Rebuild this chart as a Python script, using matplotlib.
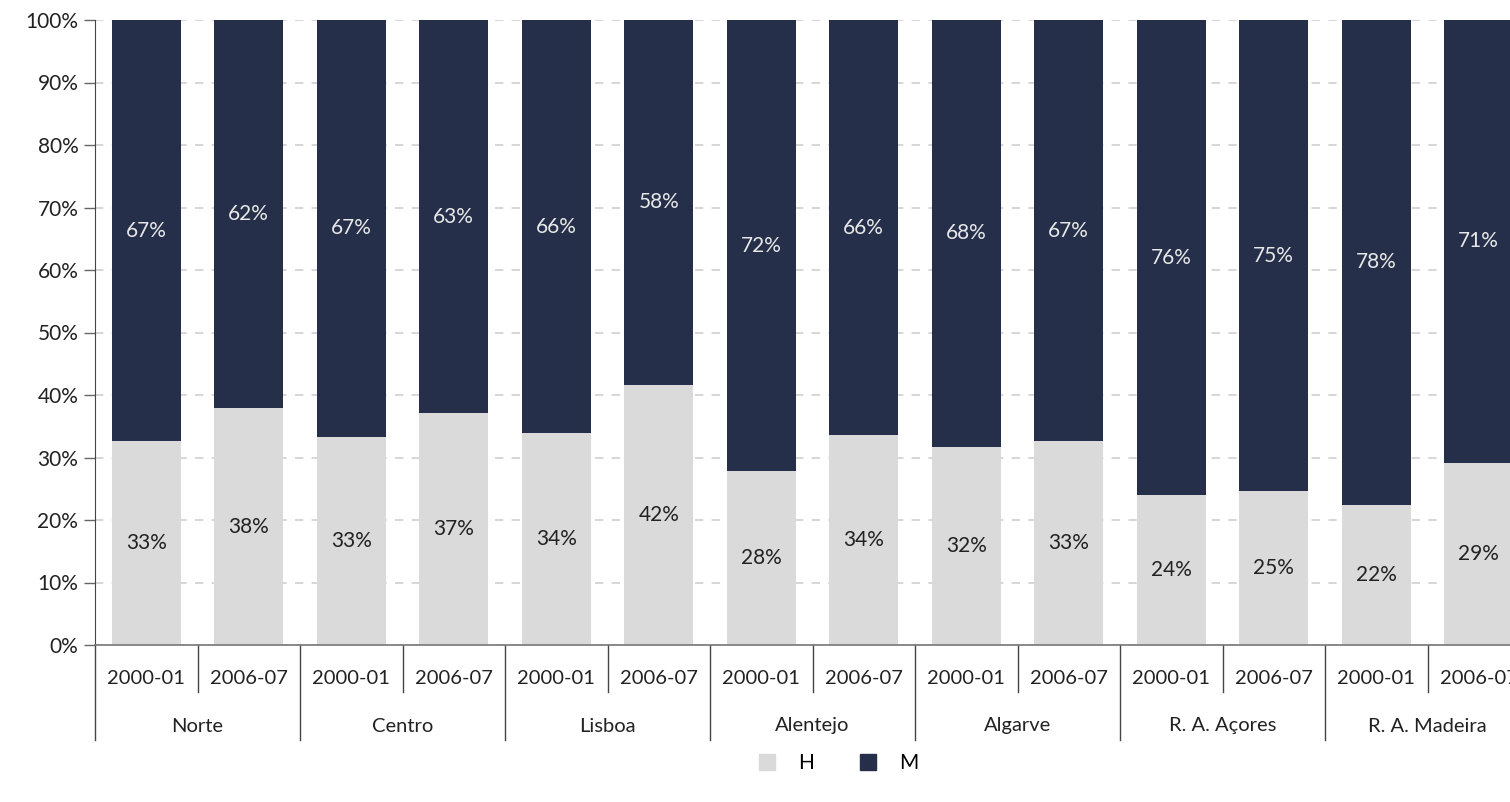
import matplotlib.pyplot as plt
from matplotlib.lines import Line2D
import numpy as np

regions = ["Norte", "Centro", "Lisboa", "Alentejo", "Algarve", "R. A. Açores", "R. A. Madeira"]
periods = ["2000-01", "2006-07"]
h_vals = [32.6, 37.9, 33.3, 37.1, 33.9, 41.6, 27.8, 33.6, 31.7, 32.6, 24.0, 24.6, 22.4, 29.2]
m_vals = [67.4, 62.1, 66.7, 62.9, 66.1, 58.4, 72.2, 66.4, 68.3, 67.4, 76.0, 75.4, 77.6, 70.8]

c_h = "#dadada"
c_m = "#252f4a"
plt.rcParams['font.family'] = ['Lato', 'DejaVu Sans']

fig = plt.figure(figsize=(15.1, 8.02), dpi=100)
# axes run past the right edge, like the original (last bar is cut)
ax = fig.add_axes([95 / 1510, 1 - 645 / 802, 1435 / 1510, 625 / 802])

x = np.arange(len(h_vals))
w = 0.67
ax.bar(x, h_vals, w, color=c_h, zorder=2)
ax.bar(x, m_vals, w, bottom=h_vals, color=c_m, zorder=2)

fs = 15
for i in range(len(x)):
    ax.text(x[i], h_vals[i] / 2, f"{round(h_vals[i])}%", ha="center", va="center",
            fontsize=fs, color="#222222", zorder=3)
    ax.text(x[i], h_vals[i] + m_vals[i] / 2, f"{round(m_vals[i])}%", ha="center", va="center",
            fontsize=fs, color="#e8e8e8", zorder=3)

ax.set_xlim(-0.5, len(x) - 0.5)
ax.set_ylim(0, 100)
ax.set_yticks(range(0, 101, 10))
ax.set_yticklabels([f"{v}%" for v in range(0, 101, 10)], fontsize=fs, color="#222222")
ax.yaxis.grid(True, linestyle=(0, (5, 5)), color="#d0d0d0", linewidth=1.2, zorder=0)
ax.tick_params(axis="y", length=8, width=1, color="#666666", pad=4)
ax.set_xticks([])
for s in ["top", "right"]:
    ax.spines[s].set_visible(False)
ax.spines["left"].set_color("#444444")
ax.spines["bottom"].set_color("#777777")
ax.spines["bottom"].set_linewidth(1.2)

# two level category axis
tr = ax.get_xaxis_transform()
short = -47 / 625
long_ = -95 / 625
for i in range(len(x)):
    ax.text(x[i], -33 / 625, periods[i % 2], transform=tr, ha="center", va="center",
            fontsize=14.5, color="#222222")
for b in range(len(x) + 1):
    edge = b - 0.5
    depth = long_ if b % 2 == 0 else short
    ax.plot([edge, edge], [0, depth], transform=tr, color="#444444", lw=1, clip_on=False)
for r, name in enumerate(regions):
    ax.text(2 * r + 0.5, -81 / 625, name, transform=tr, ha="center", va="center",
            fontsize=14.5, color="#222222")

handles = [Line2D([], [], marker="s", linestyle="", markersize=12, color=c_h),
           Line2D([], [], marker="s", linestyle="", markersize=12, color=c_m)]
fig.legend(handles, ["H", "M"], loc="center", bbox_to_anchor=(832 / 1510, 1 - 763 / 802),
           ncol=2, frameon=False, fontsize=fs, columnspacing=1.6, handletextpad=0.5)

fig.savefig("out.png", dpi=100)
